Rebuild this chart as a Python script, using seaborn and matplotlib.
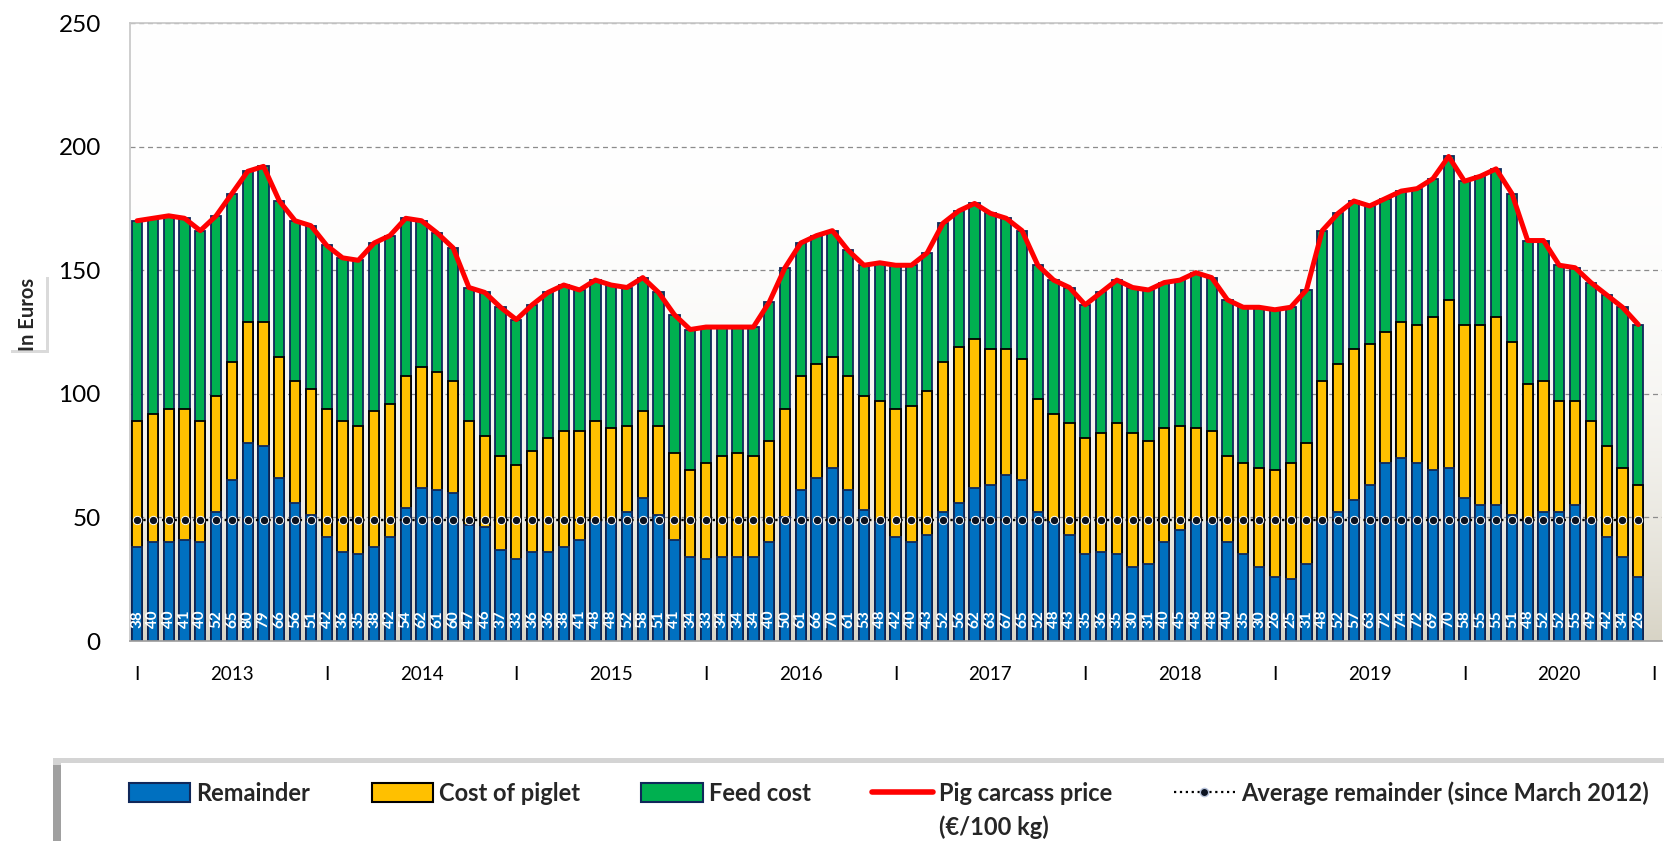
import numpy as np
import pandas as pd
import matplotlib
matplotlib.use("Agg")
import matplotlib.pyplot as plt
from matplotlib.patches import Patch, Rectangle
from matplotlib.lines import Line2D
import seaborn as sns

# monthly values, Jan 2013 - Dec 2020 (euro per 100 kg)
years = ["2013", "2014", "2015", "2016", "2017", "2018", "2019", "2020"]

remainder = [38, 40, 40, 41, 40, 52, 65, 80, 79, 66, 56, 51,
             42, 36, 35, 38, 42, 54, 62, 61, 60, 47, 46, 37,
             33, 36, 36, 38, 41, 48, 48, 52, 58, 51, 41, 34,
             33, 34, 34, 34, 40, 50, 61, 66, 70, 61, 53, 48,
             42, 40, 43, 52, 56, 62, 63, 67, 65, 52, 48, 43,
             35, 36, 35, 30, 31, 40, 45, 48, 48, 40, 35, 30,
             26, 25, 31, 48, 52, 57, 63, 72, 74, 72, 69, 70,
             58, 55, 55, 51, 48, 52, 52, 55, 49, 42, 34, 26]

piglet_cost = [51, 52, 54, 53, 49, 47, 48, 49, 50, 49, 49, 51,
               52, 53, 52, 55, 54, 53, 49, 48, 45, 42, 37, 38,
               38, 41, 46, 47, 44, 41, 38, 35, 35, 36, 35, 35,
               39, 41, 42, 41, 41, 44, 46, 46, 45, 46, 46, 49,
               52, 55, 58, 61, 63, 60, 55, 51, 49, 46, 44, 45,
               47, 48, 53, 54, 50, 46, 42, 38, 37, 35, 37, 40,
               43, 47, 49, 57, 60, 61, 57, 53, 55, 56, 62, 68,
               70, 73, 76, 70, 56, 53, 45, 42, 40, 37, 36, 37]

feed_cost = [81, 79, 78, 77, 77, 73, 68, 61, 63, 63, 65, 66,
             66, 66, 67, 68, 68, 64, 59, 56, 54, 54, 58, 60,
             59, 59, 59, 59, 57, 57, 58, 56, 54, 54, 56, 57,
             55, 52, 51, 52, 56, 57, 54, 52, 51, 51, 53, 56,
             58, 57, 56, 56, 55, 55, 55, 53, 52, 54, 54, 55,
             54, 57, 58, 59, 61, 59, 59, 63, 62, 63, 63, 65,
             65, 63, 62, 61, 61, 60, 56, 54, 53, 55, 56, 58,
             58, 60, 60, 60, 58, 57, 55, 54, 56, 61, 65, 65]

avg_remainder = 49

BLUE = "#0070C0"
YELLOW = "#FFC000"
GREEN = "#00B050"
NAVY = "#10285A"


def build_frame():
    df = pd.DataFrame({"month": range(len(remainder)),
                       "remainder": remainder,
                       "piglet": piglet_cost,
                       "feed": feed_cost})
    # stacked tops
    df["piglet_top"] = df["remainder"] + df["piglet"]
    df["price"] = df["piglet_top"] + df["feed"]
    df["average"] = avg_remainder
    return df


def plot(df):
    sns.set_theme(style="white")
    plt.rcParams["font.family"] = ["Lato", "DejaVu Sans"]

    W, H = 1664, 841
    fig = plt.figure(figsize=(W / 100, H / 100), dpi=100)
    ax = fig.add_axes([130 / W, 1 - 641 / H, (1662 - 130) / W, (641 - 23) / H])

    # stacked bars drawn as overlapping cumulative bars
    bar_kw = dict(x="month", width=0.65, saturation=1, errorbar=None,
                  linewidth=1.3, ax=ax)
    sns.barplot(data=df, y="price", color=GREEN, edgecolor=NAVY, **bar_kw)
    sns.barplot(data=df, y="piglet_top", color=YELLOW, edgecolor="black", **bar_kw)
    sns.barplot(data=df, y="remainder", color=BLUE, edgecolor=NAVY, **bar_kw)

    sns.lineplot(data=df, x="month", y="average", color="black",
                 linestyle=":", linewidth=1.7, marker="o", markersize=6,
                 markerfacecolor="#0B1220", markeredgecolor="white",
                 markeredgewidth=0.7, ax=ax, zorder=4)
    sns.lineplot(data=df, x="month", y="price", color="#FF0000",
                 linewidth=3.6, ax=ax, zorder=5)

    for i, v in enumerate(df["remainder"]):
        ax.text(i, 9, str(v), rotation=90, ha="center", va="center",
                color="white", fontsize=11, fontweight="bold", zorder=6)

    # plot area gradient (white top, beige bottom)
    t = np.linspace(0, 1, 256)[:, None] ** 3
    top = np.array([1.0, 1.0, 1.0])
    bottom = np.array([216, 212, 198]) / 255
    grad = (top * (1 - t) + bottom * t)[:, :, None].transpose(0, 2, 1)
    grad = np.repeat(grad, 2, axis=1)
    ax.imshow(grad, extent=[0, 1, 0, 1], transform=ax.transAxes,
              aspect="auto", zorder=0)

    ax.set_xlim(-0.45, 96.5)
    ax.set_ylim(0, 250)
    ax.set_yticks(range(0, 251, 50))
    ax.yaxis.grid(True, linestyle=(0, (4, 3)), color="#8C8C8C", linewidth=0.9)
    ax.set_axisbelow(True)

    ticks, labels = [], []
    for k, y in enumerate(years):
        ticks += [12 * k, 12 * k + 6]
        labels += ["I", y]
    ticks.append(96)
    labels.append("I")
    ax.set_xticks(ticks)
    ax.set_xticklabels(labels)
    ax.tick_params(axis="y", length=0, pad=21, labelsize=17.5, colors="black")
    ax.tick_params(axis="x", length=0, pad=18, labelsize=13.5, colors="black")
    ax.set_xlabel("")
    ax.set_ylabel("")

    for side in ["left", "top"]:
        ax.spines[side].set_color("#C8C8C8")
    ax.spines["bottom"].set_color("#A0A0A0")
    ax.spines["right"].set_visible(False)

    # y label in its own little box
    fig.add_artist(Rectangle((11 / W, 1 - 353 / H), 38 / W, 76 / H,
                             transform=fig.transFigure, facecolor="#DADADA",
                             edgecolor="none"))
    fig.add_artist(Rectangle((9 / W, 1 - 350 / H), 37 / W, 75 / H,
                             transform=fig.transFigure, facecolor="white",
                             edgecolor="none"))
    fig.text(28 / W, 1 - 314 / H, "In Euros", rotation=90, ha="center",
             va="center", fontsize=14.5, fontweight="bold")

    # legend box with shadow
    fig.add_artist(Rectangle((53 / W, 0), 1, 83 / H, transform=fig.transFigure,
                             facecolor="#D4D4D4", edgecolor="none"))
    fig.add_artist(Rectangle((53 / W, 0), 8 / W, 76 / H, transform=fig.transFigure,
                             facecolor="#A0A0A0", edgecolor="none"))
    fig.add_artist(Rectangle((61 / W, 0), 1, 78 / H, transform=fig.transFigure,
                             facecolor="white", edgecolor="none"))

    handles = [Patch(facecolor=BLUE, edgecolor=NAVY, linewidth=1.5),
               Patch(facecolor=YELLOW, edgecolor="black", linewidth=1.5),
               Patch(facecolor=GREEN, edgecolor=NAVY, linewidth=1.5),
               Line2D([], [], color="#FF0000", linewidth=4),
               Line2D([], [], color="black", linestyle=":", linewidth=1.6,
                      marker="o", markersize=6, markerfacecolor="#0B1220",
                      markeredgecolor="#B8C4DC")]
    names = ["Remainder", "Cost of piglet", "Feed cost", "Pig carcass price",
             "Average remainder (since March 2012)"]
    leg = fig.legend(handles, names, loc="center left",
                     bbox_to_anchor=(129 / W, 1 - 793 / H), ncol=5,
                     frameon=False, handlelength=2.6, handleheight=0.85,
                     handletextpad=0.25, columnspacing=2.6, borderpad=0,
                     borderaxespad=0, prop={"weight": "bold", "size": 17})

    fig.canvas.draw()
    bb = leg.get_texts()[3].get_window_extent()
    fig.text(bb.x0 / W, 1 - 827 / H, "(€/100 kg)", fontsize=17,
             fontweight="bold", va="center")

    fig.savefig("out.png", dpi=100)


if __name__ == "__main__":
    df = build_frame()
    plot(df)
